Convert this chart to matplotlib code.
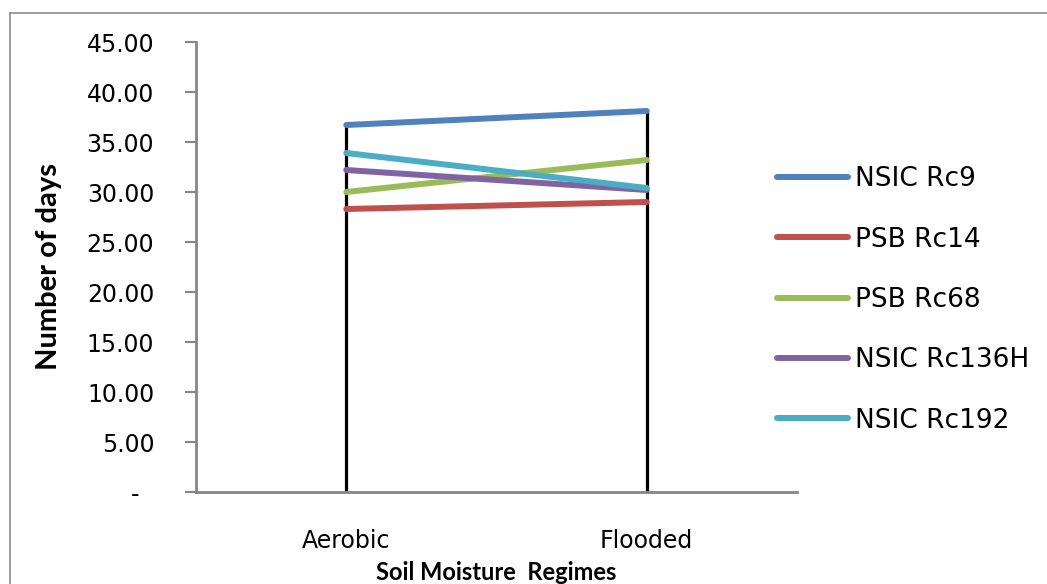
import matplotlib
matplotlib.use("Agg")
import matplotlib.pyplot as plt
from matplotlib.lines import Line2D
from matplotlib.ticker import FuncFormatter

# === data ===
regimes = ["Aerobic", "Flooded"]
varieties = ["NSIC Rc9", "PSB Rc14", "PSB Rc68", "NSIC Rc136H", "NSIC Rc192"]
rc9 = [36.7, 38.1]
rc14 = [28.3, 29.0]
rc68 = [30.0, 33.2]
rc136h = [32.2, 30.2]
rc192 = [33.9, 30.4]
series = [rc9, rc14, rc68, rc136h, rc192]
colors = ["#4F81BD", "#C0504D", "#9BBB59", "#8064A2", "#4BACC6"]

W, H = 1047, 584
plt.rcParams['font.family'] = ['DejaVu Sans']
bold_font = ['Lato', 'DejaVu Sans']

fig = plt.figure(figsize=(W / 100, H / 100), dpi=100)
# outer chart frame (only top/left visible in the crop)
fig.add_artist(Line2D([10/W, 10/W], [0, 1 - 13/H], transform=fig.transFigure,
                      color="#8c8c8c", lw=1.2))
fig.add_artist(Line2D([10/W, 1], [1 - 13/H, 1 - 13/H], transform=fig.transFigure,
                      color="#8c8c8c", lw=1.2))

ax = fig.add_axes([196/W, 1 - 492/H, (797 - 196)/W, (492 - 42)/H])

x = [0, 1]
# drop lines from axis up to the highest series
for i in range(len(regimes)):
    top = max(s[i] for s in series)
    ax.vlines(x[i], 0, top, color="black", lw=2.3, zorder=1)

for name, vals, c in zip(varieties, series, colors):
    ax.plot(x, vals, color=c, lw=4.3, solid_capstyle="round", label=name, zorder=2)

ax.set_xlim(-0.5, 1.5)
ax.set_ylim(0, 45)
ax.set_yticks(range(0, 50, 5))
ax.yaxis.set_major_formatter(FuncFormatter(lambda v, p: "-  " if v == 0 else f"{v:.2f}"))
ax.set_xticks(x)
ax.set_xticklabels(regimes)
ax.tick_params(axis="x", length=0, pad=27, labelsize=17)
ax.tick_params(axis="y", length=8, width=1.5, color="#868686", pad=22, labelsize=17)

for side in ["top", "right"]:
    ax.spines[side].set_visible(False)
for side in ["left", "bottom"]:
    ax.spines[side].set_color("#868686")
    ax.spines[side].set_linewidth(2)

ax.set_ylabel("Number of days", fontsize=21, fontweight="bold", family=bold_font)
ax.yaxis.set_label_coords((62 - 196) / 601, 0.5)
ax.set_xlabel("Soil Moisture  Regimes", fontsize=17, fontweight="bold", family=bold_font)
ax.xaxis.set_label_coords(0.5, (492 - 561) / 450)

ax.legend(loc="center left", bbox_to_anchor=((777 - 196) / 601, (492 - 300) / 450),
          frameon=False, fontsize=19, borderpad=0, borderaxespad=0,
          handlelength=2.7, labelspacing=1.3, handletextpad=0.25)

fig.savefig("out.png", dpi=100)
